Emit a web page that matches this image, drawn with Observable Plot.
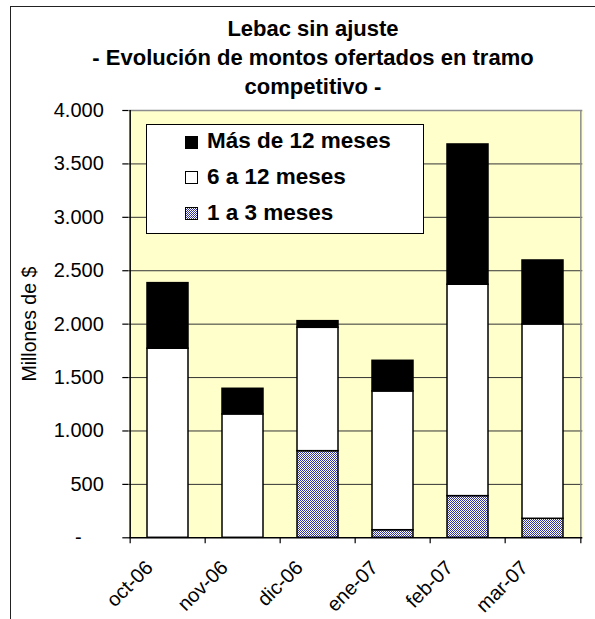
<!DOCTYPE html>
<html>
<head>
<meta charset="utf-8">
<script src="https://cdn.jsdelivr.net/npm/d3@7"></script>
<script src="https://cdn.jsdelivr.net/npm/@observablehq/plot@0.6"></script>
<style>
  html, body { margin: 0; padding: 0; background: #fff; }
  #wrap { position: relative; width: 595px; height: 619px; overflow: hidden; font-family: "Liberation Sans", Arial, sans-serif; }
  #outer { position: absolute; left: 10px; top: 6px; width: 800px; height: 800px; border-left: 1.5px solid #222; border-top: 1.5px solid #222; }
  #title { position: absolute; left: 13px; top: 14px; width: 600px; text-align: center; font-weight: bold; font-size: 22px; line-height: 29px; color: #000; }
  #chart { position: absolute; left: 0; top: 0; }
  #legend { position: absolute; left: 145.7px; top: 124px; width: 278.6px; height: 110px; box-sizing: border-box; background: #fff; border: 1px solid #000; }
  .row { position: absolute; left: 60.3px; font-weight: bold; font-size: 22.5px; line-height: 36px; white-space: nowrap; color: #000; }
  .sw { position: absolute; left: 38.3px; width: 13px; height: 13px; box-sizing: border-box; border: 1px solid #000; }
</style>
</head>
<body>
<div id="wrap">
  <div id="outer"></div>
  <div id="chart"></div>
  <div id="title">Lebac sin ajuste<br>- Evolución de montos ofertados en tramo<br>competitivo -</div>
  <div id="legend"></div>
</div>
<script>
// ---- Data ----
const categories = ["oct-06", "nov-06", "dic-06", "ene-07", "feb-07", "mar-07"];
const series = ["1 a 3 meses", "6 a 12 meses", "Más de 12 meses"];
const corto = [0, 0, 811, 71, 390, 178];          // 1 a 3 meses
const medio = [1770, 1155, 1155, 1299, 1979, 1819]; // 6 a 12 meses
const largo = [614, 240, 62, 287, 1313, 599];     // Más de 12 meses
const yTicks = [0, 500, 1000, 1500, 2000, 2500, 3000, 3500, 4000];
const gridTicks = [500, 1000, 1500, 2000, 2500, 3000, 3500];
const legendOrder = ["Más de 12 meses", "6 a 12 meses", "1 a 3 meses"];

const values = [corto, medio, largo];
const data = categories.flatMap((c, i) => series.map((s, k) => ({cat: c, serie: s, value: values[k][i]})));

const fmt = d3.formatLocale({decimal: ",", thousands: ".", grouping: [3], currency: ["$", ""]}).format(",");

const W = 595, H = 619;
const mL = 128.3, mR = 12.7, mT = 110, mB = 81.7;
const step = (W - mL - mR) / categories.length;
const first = [categories[0]];
const last = [categories[categories.length - 1]];

const chart = Plot.plot({
  width: W,
  height: H,
  marginLeft: mL,
  marginRight: mR,
  marginTop: mT,
  marginBottom: mB,
  style: {background: "transparent", fontFamily: "'Liberation Sans', Arial, sans-serif", fontSize: "20px", color: "#000"},
  x: {type: "band", domain: categories, paddingInner: 0.45, paddingOuter: 0.225, axis: null},
  y: {domain: [0, 4000], axis: null},
  color: {domain: series, range: ["url(#checker)", "#ffffff", "#000000"]},
  marks: [
    Plot.frame({fill: "#FFFFCC", stroke: null}),
    Plot.ruleY(gridTicks, {stroke: "#333", strokeWidth: 1}),
    Plot.barY(data, {x: "cat", y: "value", fill: "serie", stroke: "#000", strokeWidth: 1.5}),
    Plot.ruleY([4000], {stroke: "#8c8c8c", strokeWidth: 1.5}),
    Plot.ruleX(last, {x: d => d, dx: step / 2, stroke: "#8c8c8c", strokeWidth: 1.5}),
    Plot.ruleY([0], {stroke: "#000", strokeWidth: 1.5}),
    Plot.ruleX(first, {x: d => d, dx: -step / 2, stroke: "#000", strokeWidth: 1.5}),
    Plot.axisY({ticks: yTicks, tickSize: 6, tickPadding: 19, fontSize: 20, tickFormat: d => d === 0 ? "-\u2007\u2007" : fmt(d), label: null, stroke: "#000", strokeWidth: 1.2}),
    Plot.axisX({ticks: categories, tickSize: 6, tickFormat: () => "", dx: -step / 2, label: null, stroke: "#000", strokeWidth: 1.2}),
    Plot.axisX({ticks: last, tickSize: 6, tickFormat: () => "", dx: step / 2, label: null, stroke: "#000", strokeWidth: 1.2}),
    Plot.text(categories, {x: d => d, frameAnchor: "bottom", lineAnchor: "bottom", rotate: -45, textAnchor: "end", dx: -14, dy: 31, fontSize: 20, fill: "#000"}),
    Plot.text(["Millones de $"], {frameAnchor: "left", textAnchor: "middle", lineAnchor: "middle", rotate: -90, dx: -(mL - 29), fontSize: 19.5, fill: "#000"})
  ]
});

chart.insertAdjacentHTML("afterbegin",
  '<defs><pattern id="checker" width="2" height="2" patternUnits="userSpaceOnUse">' +
  '<rect width="2" height="2" fill="#ffffff"/>' +
  '<rect width="1" height="1" fill="#3333a0"/>' +
  '<rect x="1" y="1" width="1" height="1" fill="#3333a0"/>' +
  '</pattern></defs>');

document.getElementById("chart").appendChild(chart);

// ---- Legend ----
const swatchFill = {
  "Más de 12 meses": "#000",
  "6 a 12 meses": "#fff",
  "1 a 3 meses": "repeating-conic-gradient(#3333a0 0 25%, #ffffff 0 50%) 0 0 / 2px 2px"
};
const legend = document.getElementById("legend");
legendOrder.forEach((s, i) => {
  const sw = document.createElement("div");
  sw.className = "sw";
  sw.style.top = (10.5 + i * 35.75) + "px";
  sw.style.background = swatchFill[s];
  legend.appendChild(sw);
  const t = document.createElement("div");
  t.className = "row";
  t.style.top = (-1.8 + i * 35.75) + "px";
  t.textContent = s;
  legend.appendChild(t);
});
</script>
</body>
</html>
